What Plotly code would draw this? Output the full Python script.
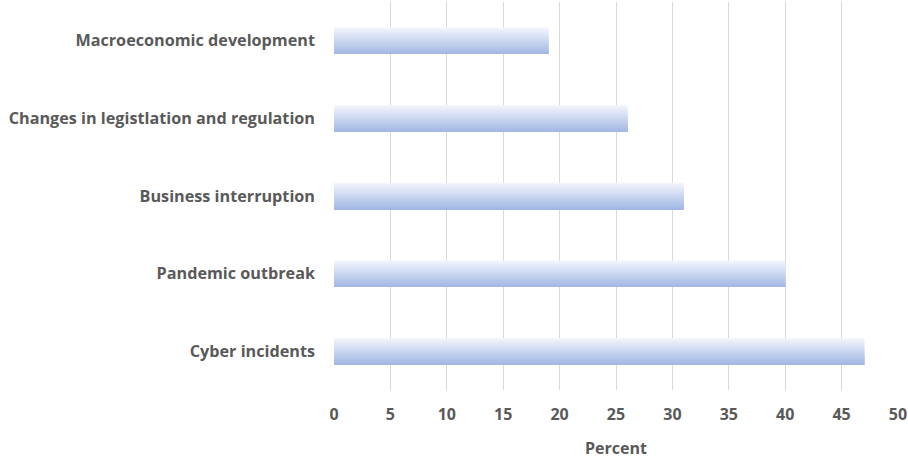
import plotly.graph_objects as go

# Risk categories, listed bottom to top
categories = [
    "Cyber incidents",
    "Pandemic outbreak",
    "Business interruption",
    "Changes in legistlation and regulation",
    "Macroeconomic development",
]
percent = [47, 40, 31, 26, 19]
x_ticks = [0, 5, 10, 15, 20, 25, 30, 35, 40, 45, 50]

TEXT = "#595959"
FONT = "Open Sans"
BAR_W = 0.34

# Vertical gradient: light at the top edge, deeper blue at the bottom.
top_rgb = (242, 245, 252)
bot_rgb = (163, 184, 228)
steps = 24

fig = go.Figure()
for i in range(steps):
    frac = 1 - i / steps          # height of this layer (fraction of bar)
    t = i / (steps - 1)
    c = tuple(round(top_rgb[k] + (bot_rgb[k] - top_rgb[k]) * t) for k in range(3))
    fig.add_trace(go.Bar(
        x=percent,
        y=categories,
        orientation="h",
        width=BAR_W * frac,
        offset=-BAR_W / 2,
        marker=dict(color=f"rgb{c}", line=dict(width=0)),
        hoverinfo="skip" if i else None,
        showlegend=False,
    ))

fig.update_layout(
    width=908,
    height=459,
    margin=dict(l=334, r=10, t=2, b=69),
    barmode="overlay",
    plot_bgcolor="white",
    paper_bgcolor="white",
    font=dict(family=FONT, color=TEXT),
)
fig.update_xaxes(
    range=[0, 50],
    tickvals=x_ticks,
    automargin=False,
    showgrid=True,
    gridcolor="#d9d9d9",
    gridwidth=1,
    zeroline=False,
    showline=False,
    ticks="",
    ticklabelstandoff=13,
    tickfont=dict(family=FONT, size=16, color=TEXT, weight="bold"),
    title=dict(text="Percent", font=dict(family=FONT, size=16, color=TEXT, weight="bold"), standoff=26),
)
fig.update_yaxes(
    categoryorder="array",
    categoryarray=categories,
    automargin=False,
    showgrid=False,
    zeroline=False,
    showline=False,
    ticks="",
    ticklabelstandoff=18,
    tickfont=dict(family=FONT, size=16.2, color=TEXT, weight="bold"),
)

fig.write_html("out.html")
